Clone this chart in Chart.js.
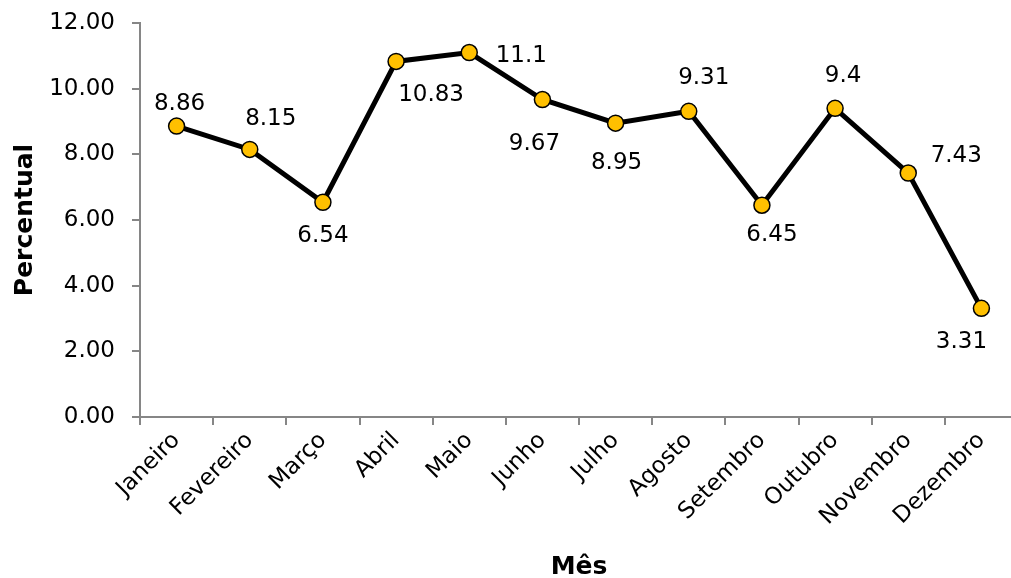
<!DOCTYPE html>
<html>
<head>
<meta charset="utf-8">
<script src="https://cdn.jsdelivr.net/npm/chart.js@4"></script>
<style>
  html, body { margin: 0; padding: 0; background: #fff; overflow: hidden; }
  #wrap { width: 1011px; height: 578px; overflow: hidden; }
</style>
</head>
<body>
<div id="wrap"><canvas id="myChart" width="1018" height="578"></canvas></div>
<script>
const meses = ['Janeiro', 'Fevereiro', 'Março', 'Abril', 'Maio', 'Junho',
    'Julho', 'Agosto', 'Setembro', 'Outubro', 'Novembro', 'Dezembro'];
const percentual = [8.86, 8.15, 6.54, 10.83, 11.1, 9.67, 8.95, 9.31, 6.45, 9.4, 7.43, 3.31];
const yTicks = [0, 2, 4, 6, 8, 10, 12];

// where each value label sits relative to its point (px)
const labelOffsets = [[3, -25], [21, -33], [0, 31], [35, 31], [52, 1], [-8, 42],
    [1, 37], [15, -36], [10, 27], [8, -35], [48, -20], [-20, 31]];

const fontFamily = '"DejaVu Sans", Verdana, sans-serif';
const axisGray = '#868686';

const valueLabels = {
    id: 'valueLabels',
    afterDatasetsDraw(chart) {
        const ctx = chart.ctx;
        const meta = chart.getDatasetMeta(0);
        ctx.save();
        ctx.font = '23px ' + fontFamily;
        ctx.fillStyle = '#000';
        ctx.textAlign = 'center';
        ctx.textBaseline = 'alphabetic';
        meta.data.forEach(function (pt, i) {
            const off = labelOffsets[i];
            ctx.fillText(String(percentual[i]), pt.x + off[0], pt.y + off[1] + 8.5);
        });
        ctx.restore();
    }
};

const ctx = document.getElementById('myChart').getContext('2d');
const chart = new Chart(ctx, {
    type: 'line',
    data: {
        labels: meses,
        datasets: [{
            label: 'Percentual',
            data: percentual,
            borderColor: '#000',
            borderWidth: 5,
            pointBackgroundColor: '#FFC000',
            pointBorderColor: '#000',
            pointBorderWidth: 1.5,
            pointRadius: 8,
            tension: 0,
            clip: false
        }]
    },
    options: {
        responsive: false,
        animation: false,
        layout: { autoPadding: false, padding: { top: 23, right: 0, left: 10, bottom: 0 } },
        plugins: {
            legend: { display: false },
            tooltip: { enabled: false }
        },
        scales: {
            x: {
                offset: true,
                afterFit(axis) {
                    axis.height = 161;
                    axis.paddingLeft = 0;
                    axis.paddingRight = 0;
                },
                grid: {
                    offset: true,
                    drawOnChartArea: false,
                    drawTicks: true,
                    tickLength: 8,
                    color: axisGray,
                    lineWidth: 2
                },
                border: { color: axisGray, width: 2 },
                ticks: {
                    color: '#000',
                    font: { family: fontFamily, size: 23 },
                    minRotation: 45,
                    maxRotation: 45,
                    padding: 2,
                    autoSkip: false
                },
                title: {
                    display: true,
                    text: 'Mês',
                    color: '#000',
                    font: { family: fontFamily, size: 25, weight: 'bold' },
                    padding: { top: 0, bottom: -4 }
                }
            },
            y: {
                min: 0,
                max: 12,
                afterBuildTicks(axis) {
                    axis.ticks = yTicks.map(function (v) { return { value: v }; });
                },
                afterFit(axis) {
                    axis.width = 130;
                    axis.paddingTop = 0;
                    axis.paddingBottom = 0;
                },
                grid: {
                    drawOnChartArea: false,
                    drawTicks: true,
                    tickLength: 8,
                    color: axisGray,
                    lineWidth: 2
                },
                border: { color: axisGray, width: 2 },
                ticks: {
                    color: '#000',
                    font: { family: fontFamily, size: 23 },
                    padding: 17,
                    callback: function (v) { return Number(v).toFixed(2); }
                },
                title: {
                    display: true,
                    text: 'Percentual',
                    color: '#000',
                    font: { family: fontFamily, size: 25, weight: 'bold' },
                    padding: { top: 0, bottom: 0 }
                }
            }
        }
    },
    plugins: [valueLabels]
});
</script>
</body>
</html>
